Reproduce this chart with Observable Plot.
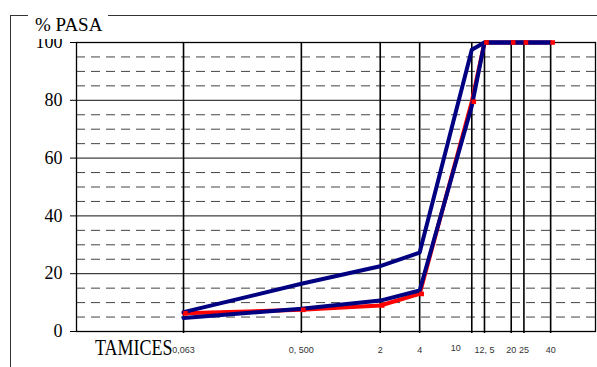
<!DOCTYPE html>
<html>
<head>
<meta charset="utf-8">
<script src="https://cdn.jsdelivr.net/npm/d3@7"></script>
<script src="https://cdn.jsdelivr.net/npm/@observablehq/plot@0.6"></script>
<style>
  html, body { margin: 0; padding: 0; background: #fff; }
  #wrap { position: relative; width: 597px; height: 367px; overflow: hidden; background: #fff; }
  #border { position: absolute; left: 10px; top: 15px; width: 600px; height: 400px;
            border-top: 1.5px solid #333; border-left: 1.5px solid #333; }
  #title { position: absolute; left: 28px; top: 13px; width: 80px; padding-left: 7px; box-sizing: border-box;
           background: #fff; font-family: 'Liberation Serif'; font-size: 19px; line-height: 24px; color: #000; white-space: nowrap; }
  #xtitle { position: absolute; left: 95px; top: 341px; font-family: 'Liberation Serif'; font-size: 18px; line-height: 18px;
            color: #000; transform: scaleY(1.25); transform-origin: 0 100%; white-space: nowrap; }
  #chart { position: absolute; left: 0; top: 39px; width: 597px; height: 328px; overflow: hidden; }
  #chart svg { overflow: hidden; }
</style>
</head>
<body>
<div id="wrap">
  <div id="border"></div>
  <div id="chart"></div>
  <div id="title">% PASA</div>
  <div id="xtitle">TAMICES</div>
</div>
<script>
// Sieve sizes (mm) and their labels
const sieves = [0.063, 0.5, 2, 4, 10, 12.5, 20, 25, 40];
const sieveLabels = ["0,063", "0, 500", "2", "4", "10", "12, 5", "20", "25", "40"];
// % passing: sample (red) and the two envelope curves (blue)
const sample = [6.3, 7.5, 9.0, 13.0, 79.5, 100, 100, 100, 100];
const upperLimit = [6.7, 16.5, 22.6, 27.3, 97.5, 100, 100, 100, 100];
const lowerLimit = [4.7, 7.9, 10.7, 14.2, 78.0, 100, 100, 100, 100];
// y-axis ticks and grid
const yTicks = [0, 20, 40, 60, 80, 100];
const dashedGrid = [5, 10, 15, 25, 30, 35, 45, 50, 55, 65, 70, 75, 85, 90, 95];
const solidGrid = [20, 40, 60, 80];

const idx = sieves.map((_, i) => i);

const chart = Plot.plot({
  width: 597,
  height: 328,
  marginTop: 3,
  marginBottom: 36,
  marginLeft: 76,
  marginRight: 2,
  x: { type: "log", domain: [0.0096, 88], axis: null },
  y: { domain: [0, 100], axis: null },
  style: { background: "transparent", color: "#000", fontFamily: "Liberation Serif" },
  marks: [
    Plot.ruleY(dashedGrid, { stroke: "#444", strokeWidth: 1, strokeDasharray: "9,6" }),
    Plot.ruleY(solidGrid, { stroke: "#111", strokeWidth: 1 }),
    Plot.ruleX(sieves, { stroke: "#000", strokeWidth: 1.6, insetBottom: -2 }),
    Plot.frame({ stroke: "#000", strokeWidth: 1.3 }),
    Plot.axisY({ ticks: yTicks, tickSize: 6, tickPadding: 8, fontSize: 18, fontFamily: "Liberation Serif", label: null, stroke: "#000" }),
    Plot.text(idx, {
      filter: i => sieveLabels[i] !== "10",
      x: i => sieves[i], text: i => sieveLabels[i],
      frameAnchor: "bottom", lineAnchor: "bottom", dy: 21,
      fontFamily: "Liberation Sans", fontSize: 9, fill: "#333"
    }),
    Plot.text(idx, {
      filter: i => sieveLabels[i] === "10",
      x: i => sieves[i], text: i => sieveLabels[i],
      frameAnchor: "bottom", lineAnchor: "bottom", dy: 19, dx: -16,
      fontFamily: "Liberation Sans", fontSize: 9, fill: "#333"
    }),
    Plot.line(idx, { x: i => sieves[i], y: i => sample[i], stroke: "#ff0000", strokeWidth: 4 }),
    Plot.line(idx, { x: i => sieves[i], y: i => upperLimit[i], stroke: "#000080", strokeWidth: 4 }),
    Plot.line(idx, { x: i => sieves[i], y: i => lowerLimit[i], stroke: "#000080", strokeWidth: 4 }),
    Plot.dot(idx, { x: i => sieves[i], y: i => sample[i], symbol: "square", r: 2.6, fill: "#ff0000", dx: 2 })
  ]
});
document.getElementById("chart").appendChild(chart);
</script>
</body>
</html>
